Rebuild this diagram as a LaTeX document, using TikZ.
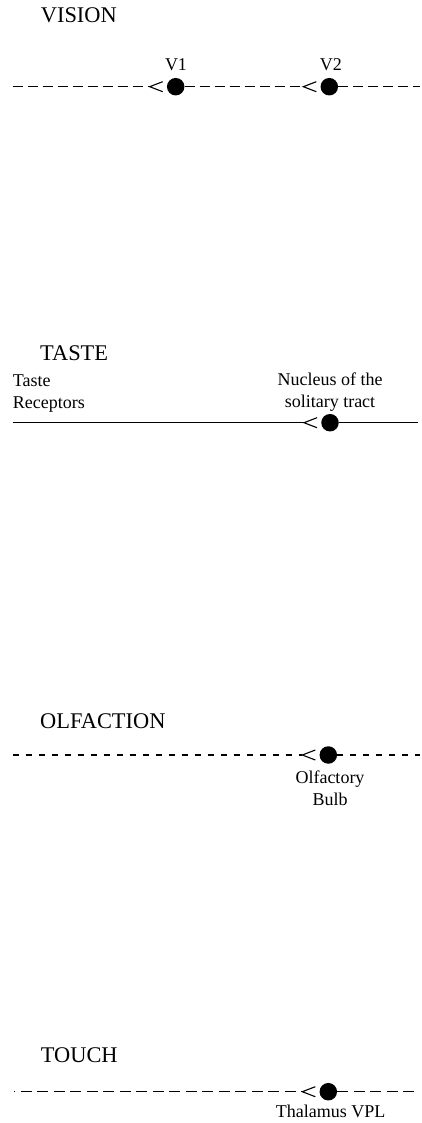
\documentclass[tikz,border=0pt]{standalone}
\usepackage{fontspec}
\setmainfont{Liberation Serif}

\begin{document}
\begin{tikzpicture}[
x=1pt,
y=-1pt,
cellnode/.style={circle, fill=black, inner sep=0pt, minimum size=17.5pt},
headnode/.style={anchor=base west, inner sep=0pt, font=\fontsize{22.4}{26}\selectfont},
labelnode/.style={inner sep=0pt, align=center, font=\fontsize{18}{22}\selectfont},
axon/.style={line width=1.1pt},
inmark/.style={line width=1.1pt},
]
\useasboundingbox (0,0) rectangle (421,1123);
% headings
\node[headnode] (vision) at (40.7,22.7) {VISION};
\node[headnode] (taste) at (40,360.7) {TASTE};
\node[headnode] (smell) at (40,728) {OLFACTION};
\node[headnode] (touch) at (40.7,1062.7) {TOUCH};
% relay cells
\node[cellnode] (v1) at (175.7,86.7) {};
\node[cellnode] (v2) at (329.3,86.7) {};
\node[cellnode] (nts) at (330,422.7) {};
\node[cellnode] (ob) at (328.3,755) {};
\node[cellnode] (vpl) at (328.3,1091.7) {};
% cell labels (base sits on the last line)
\node[labelnode, anchor=base] (v1lab) at (176,70.7) {V1};
\node[labelnode, anchor=base] (v2lab) at (330.8,70.7) {V2};
\node[labelnode, anchor=base west, align=left] (tr) at (12.7,408) {Taste\\Receptors};
\node[labelnode, anchor=base] (ntslab) at (330,407.3) {Nucleus of the\\solitary tract};
\node[labelnode, anchor=base] (oblab) at (330,805.7) {Olfactory\\Bulb};
\node[labelnode, anchor=base] (vpllab) at (330.7,1117.5) {Thalamus VPL};
% incoming marks in front of each cell
\foreach \c in {v1,v2,nts,ob,vpl}
{
 \coordinate (\c-in) at ([xshift=-26pt]\c.center);
 \draw[inmark] ([xshift=-13pt,yshift=5pt]\c.center) -- (\c-in) -- ([xshift=-13pt,yshift=-5pt]\c.center);
}
% free ends of the pathways
\coordinate (visL) at (12.7,86.7);
\coordinate (visR) at (420,86.7);
\coordinate (tasL) at (12.7,422.7);
\coordinate (tasR) at (418,422.7);
\coordinate (smlL) at (12.7,755);
\coordinate (smlR) at (420,755);
\coordinate (touL) at (14,1091.7);
\coordinate (touR) at (415,1091.7);
% pathways
\draw[axon, dash pattern=on 10pt off 5pt] (visL) -- (v1-in);
\draw[axon, dash pattern=on 10pt off 5pt] (v1) -- (v2-in);
\draw[axon, dash pattern=on 10pt off 5pt] (v2) -- (visR);
\draw[axon] (tasL) -- (nts-in);
\draw[axon] (nts) -- (tasR);
\draw[axon, dash pattern=on 6pt off 7pt] (smlL) -- (ob-in);
\draw[axon, dash pattern=on 6pt off 7pt] (ob) -- (smlR);
\draw[axon, dash pattern=on 11pt off 5.5pt, dash phase=10pt] (touL) -- (vpl-in);
\draw[axon, dash pattern=on 11pt off 5.5pt] (vpl) -- (touR);
\end{tikzpicture}
\end{document}
